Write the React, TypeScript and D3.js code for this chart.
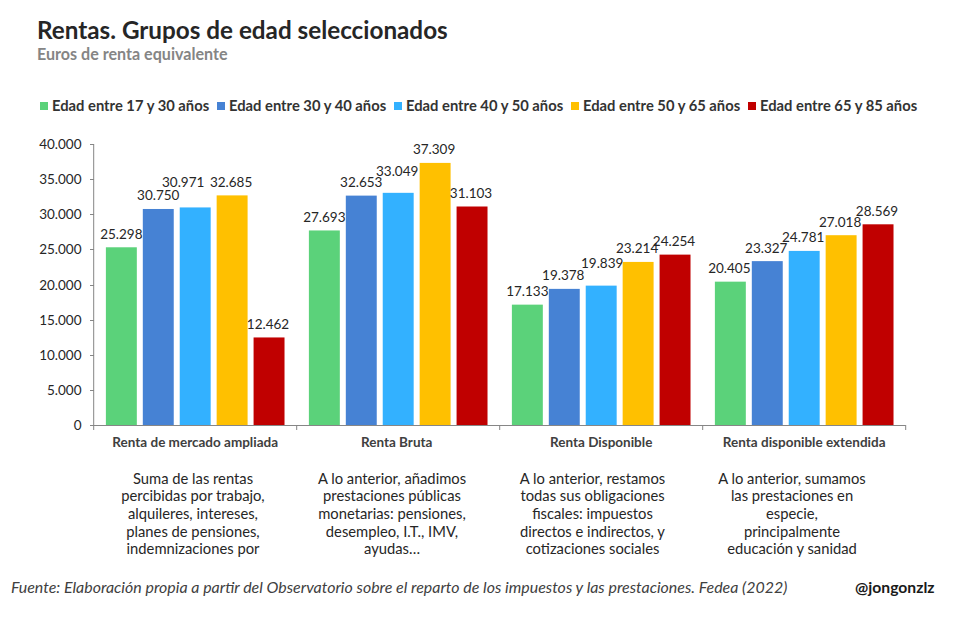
import React from 'react';
import * as d3 from 'd3';

const categories = ['Renta de mercado ampliada', 'Renta Bruta', 'Renta Disponible', 'Renta disponible extendida'];
const seriesNames = ['Edad entre 17 y 30 años', 'Edad entre 30 y 40 años', 'Edad entre 40 y 50 años', 'Edad entre 50 y 65 años', 'Edad entre 65 y 85 años'];
const colors = ['#5BD27A', '#4682D4', '#33B1FF', '#FFC000', '#C00000'];
const s1 = [25298, 27693, 17133, 20405];
const s2 = [30750, 32653, 19378, 23327];
const s3 = [30971, 33049, 19839, 24781];
const s4 = [32685, 37309, 23214, 27018];
const s5 = [12462, 31103, 24254, 28569];
const allSeries = [s1, s2, s3, s4, s5];
const yTicks = [0, 5000, 10000, 15000, 20000, 25000, 30000, 35000, 40000];
const notes = [
  ['Suma de las rentas', 'percibidas por trabajo,', 'alquileres, intereses,', 'planes de pensiones,', 'indemnizaciones por'],
  ['A lo anterior, añadimos', 'prestaciones públicas', 'monetarias: pensiones,', 'desempleo, I.T., IMV,', 'ayudas…'],
  ['A lo anterior, restamos', 'todas sus obligaciones', 'fiscales: impuestos', 'directos e indirectos, y', 'cotizaciones sociales'],
  ['A lo anterior, sumamos', 'las prestaciones en', 'especie,', 'principalmente', 'educación y sanidad'],
];
// layout only: manual nudges of the value labels, by series then category
const labelDx = [[0, 0, 0, -1], [0, 0, -1, -1], [-12, -1, 1, -1], [-1, -1, -1, -1], [-1, -1, -1, -1]];
const labelDy = [[0, 0, 0, 0], [0, 0, 0, 0], [-12, -8.5, -9, 0], [0, 0, 0, 0], [0, 0, 0, 0]];
const categoryDx = [0, -1.5, 0, 0];
const noteX = [193, 392, 592.5, 792];
const legendX = [40, 217, 394, 571, 748];

const font = 'Lato, sans-serif';
const fmt = (v: number) => d3.format(',')(v).replace(/,/g, '.');

export default function App() {
  const x0 = d3.scaleBand<number>().domain(d3.range(4)).range([93.7, 905.7]);
  const y = d3.scaleLinear().domain([0, 40000]).range([425, 144]);
  const x1 = d3.scaleBand<number>().domain(d3.range(5)).range([0, x0.bandwidth()]).paddingInner(0.162).paddingOuter(0.33);
  const axis = '#868686';
  return (
    <svg width={955} height={623} style={{ position: 'absolute', left: 0, top: 0, background: '#fff', fontFamily: font }}>
      <text x={37} y={39} fontSize={24.25} fontWeight={700} fill="#262626">Rentas. Grupos de edad seleccionados</text>
      <text x={37} y={60} fontSize={16.1} fontWeight={700} fill="#858585">Euros de renta equivalente</text>
      {seriesNames.map((n, i) => (
        <g key={n}>
          <rect x={legendX[i]} y={102} width={8} height={8} fill={colors[i]} />
          <text x={legendX[i] + 12} y={111} fontSize={14.75} fontWeight={700} fill="#333">{n}</text>
        </g>
      ))}
      {yTicks.map(t => (
        <g key={t}>
          <text x={81.5} y={y(t) + 5} fontSize={13.5} textAnchor="end" fill="#262626">{fmt(t)}</text>
          <line x1={90} x2={94} y1={Math.round(y(t)) + 0.5} y2={Math.round(y(t)) + 0.5} stroke={axis} />
        </g>
      ))}
      {allSeries.map((vals, si) => vals.map((v, ci) => {
        const bx = x0(ci)! + x1(si)!;
        return (
          <g key={`${si}-${ci}`}>
            <rect x={bx} y={y(v)} width={x1.bandwidth()} height={425 - y(v)} fill={colors[si]} />
            <text x={bx + x1.bandwidth() / 2 + labelDx[si][ci]} y={y(v) - 8.6 + labelDy[si][ci]} fontSize={13.5} textAnchor="middle" fill="#262626">{fmt(v)}</text>
          </g>
        );
      }))}
      <line x1={93.7} x2={905.7} y1={425.5} y2={425.5} stroke={axis} />
      <line x1={93.7} x2={93.7} y1={144} y2={425} stroke={axis} />
      {d3.range(5).map(i => (
        <line key={i} x1={93.7 + i * x0.bandwidth()} x2={93.7 + i * x0.bandwidth()} y1={425} y2={430} stroke={axis} />
      ))}
      {categories.map((c, i) => (
        <text key={c} x={x0(i)! + x0.bandwidth() / 2 + categoryDx[i]} y={447} fontSize={13.5} fontWeight={700} textAnchor="middle" fill="#404040">{c}</text>
      ))}
      {notes.map((lines, i) => lines.map((l, j) => (
        <text key={`${i}-${j}`} x={noteX[i]} y={483.8 + j * 17.6} fontSize={14.75} textAnchor="middle" fill="#262626">{l}</text>
      )))}
      <text x={11} y={593} fontSize={15.95} fontStyle="italic" fill="#404040">Fuente: Elaboración propia a partir del Observatorio sobre el reparto de los impuestos y las prestaciones. Fedea (2022)</text>
      <text x={934.5} y={593} fontSize={15.7} fontWeight={700} textAnchor="end" fill="#1a1a1a">@jongonzlz</text>
    </svg>
  );
}
